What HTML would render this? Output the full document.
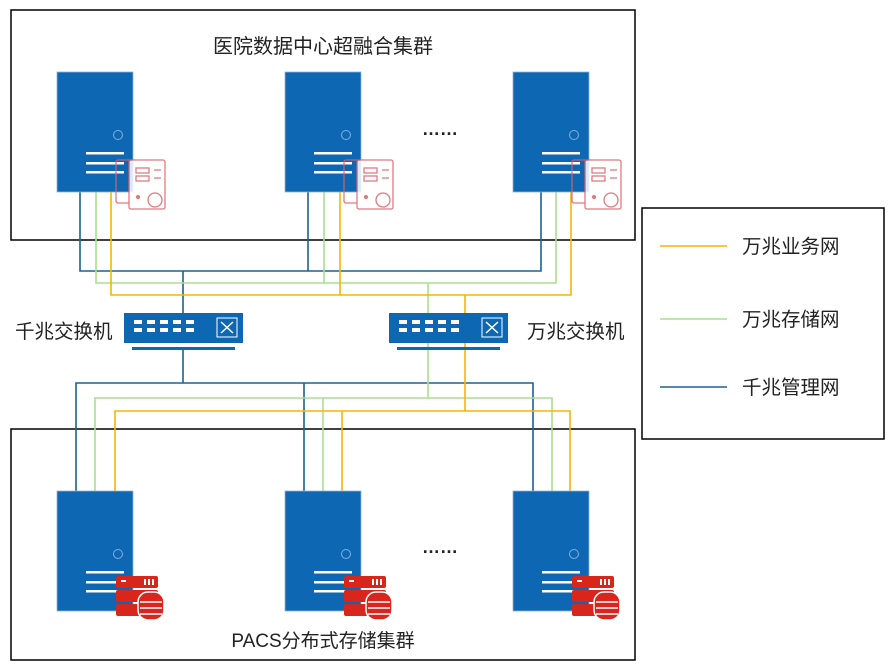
<!DOCTYPE html>
<html><head><meta charset="utf-8"><style>body{margin:0;background:#fff}svg{display:block}text{font-family:"Liberation Sans","Noto Sans CJK SC",sans-serif;fill:#222}</style></head>
<body>
<svg width="895" height="672" viewBox="0 0 895 672" xmlns="http://www.w3.org/2000/svg">
<defs>
<g id="srv">
<rect x="0" y="0" width="76" height="120" fill="#0e67b2" stroke="#8fb5d8" stroke-width="0.8"/>
<circle cx="61" cy="63" r="4.5" fill="none" stroke="#7fb0dd" stroke-width="1"/>
<rect x="29" y="80" width="38" height="2.5" fill="#fff"/>
<rect x="29" y="90" width="38" height="2.5" fill="#fff"/>
<rect x="29" y="99" width="38" height="2.5" fill="#fff"/>
</g>
<g id="doc" fill="none" stroke="#d9646d" stroke-width="1.3" opacity="0.85">
<rect x="0" y="0" width="22" height="43" rx="2"/>
<rect x="13" y="0" width="36" height="49" rx="2" fill="#fff"/>
<rect x="20" y="8" width="13" height="5"/>
<rect x="20" y="16" width="13" height="5"/>
<line x1="38" y1="10" x2="45" y2="10"/><line x1="38" y1="18" x2="45" y2="18"/>
<circle cx="22" cy="37" r="1.5" fill="#d9646d"/>
<circle cx="39" cy="40" r="7"/>
</g>
<g id="stor">
<rect x="0" y="0" width="42" height="12" rx="2" fill="#d8261c"/>
<rect x="0" y="14" width="42" height="12" rx="2" fill="#d8261c"/>
<rect x="0" y="28" width="42" height="12" rx="2" fill="#d8261c"/>
<rect x="5" y="4" width="5" height="2" fill="#fff"/>
<rect x="28" y="3" width="2" height="6" fill="#fff"/><rect x="32" y="3" width="2" height="6" fill="#fff"/><rect x="36" y="3" width="2" height="6" fill="#fff"/>
<rect x="22" y="16" width="26" height="28" rx="10" fill="#d8261c" stroke="#fff" stroke-width="1.5"/>
<line x1="24" y1="26" x2="46" y2="26" stroke="#fff" stroke-width="1.5"/>
<line x1="24" y1="32" x2="46" y2="32" stroke="#fff" stroke-width="1.5"/>
<line x1="24" y1="38" x2="46" y2="38" stroke="#fff" stroke-width="1.5"/>
</g>
<g id="sw">
<rect x="0" y="0" width="119" height="30" fill="#0e67b2"/>
<rect x="8" y="34" width="103" height="3" fill="#0e67b2"/>
<g fill="#fff">
<rect x="10" y="7" width="8" height="4"/><rect x="10" y="15" width="8" height="4"/>
<rect x="23" y="7" width="8" height="4"/><rect x="23" y="15" width="8" height="4"/>
<rect x="36" y="7" width="8" height="4"/><rect x="36" y="15" width="8" height="4"/>
<rect x="49" y="7" width="8" height="4"/><rect x="49" y="15" width="8" height="4"/>
<rect x="62" y="7" width="8" height="4"/><rect x="62" y="15" width="8" height="4"/>
</g>
<rect x="93" y="5" width="20" height="19" fill="none" stroke="#fff" stroke-width="1"/>
<path d="M97 9 L109 20 M109 9 L97 20" stroke="#fff" stroke-width="1.5"/>
</g>
</defs>

<rect x="11" y="10" width="624" height="230" fill="none" stroke="#000" stroke-width="1.5"/>
<rect x="11" y="429" width="624" height="231" fill="none" stroke="#000" stroke-width="1.5"/>
<rect x="642" y="208" width="242" height="231" fill="none" stroke="#000" stroke-width="1.5"/>

<text x="323" y="53" font-size="20" text-anchor="middle">医院数据中心超融合集群</text>
<text x="323" y="647" font-size="19" text-anchor="middle">PACS分布式存储集群</text>
<text x="440" y="135" font-size="18" font-weight="bold" text-anchor="middle">……</text>
<text x="440" y="553" font-size="18" font-weight="bold" text-anchor="middle">……</text>
<text x="15" y="338" font-size="19.5">千兆交换机</text>
<text x="527" y="338" font-size="19.5">万兆交换机</text>

<g fill="none" stroke-width="1.6">
<path d="M80 192V271H541V192 M308 192V271 M183 271V313" stroke="#1b6293"/>
<path d="M96 192V283H556V192 M324 192V283 M428 283V313" stroke="#a8e08e"/>
<path d="M111 192V295H571V192 M340 192V295 M465 295V313" stroke="#f7b500"/>
<path d="M183 349V383 M76 491V383H533V491 M304 383V491" stroke="#1b6293"/>
<path d="M428 342V398 M95 491V398H552V491 M323 398V491" stroke="#a8e08e"/>
<path d="M465 342V411 M115 491V411H570V491 M342 411V491" stroke="#f7b500"/>
<line x1="660" y1="246" x2="727" y2="246" stroke="#f7b500"/>
<line x1="660" y1="319" x2="727" y2="319" stroke="#a8e08e"/>
<line x1="660" y1="387" x2="727" y2="387" stroke="#1b6293"/>
</g>
<text x="742" y="253" font-size="19.5">万兆业务网</text>
<text x="742" y="326" font-size="19.5">万兆存储网</text>
<text x="742" y="394" font-size="19.5">千兆管理网</text>

<use href="#srv" x="57" y="72"/><use href="#srv" x="285" y="72"/><use href="#srv" x="513" y="72"/>
<use href="#doc" x="116" y="160"/><use href="#doc" x="344" y="160"/><use href="#doc" x="572" y="160"/>
<use href="#srv" x="57" y="491"/><use href="#srv" x="285" y="491"/><use href="#srv" x="513" y="491"/>
<use href="#stor" x="116" y="576"/><use href="#stor" x="344" y="576"/><use href="#stor" x="572" y="576"/>
<use href="#sw" x="124" y="313"/><use href="#sw" x="389" y="313"/>
</svg>
</body></html>
